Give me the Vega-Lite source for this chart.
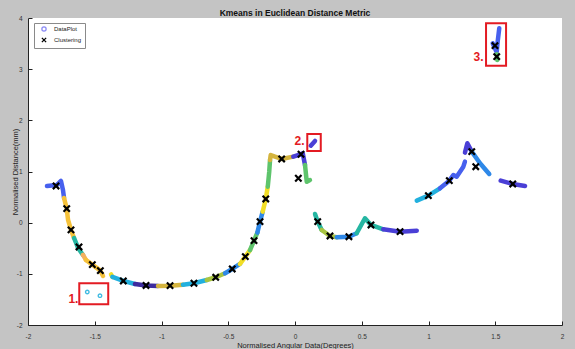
{
  "$schema": "https://vega.github.io/schema/vega-lite/v6.json",
  "width": 534,
  "height": 307,
  "autosize": {"type": "none"},
  "padding": {"left": 28, "top": 18, "right": 13, "bottom": 24},
  "background": "#c4c4c4",
  "config": {"view": {"fill": "white", "stroke": null}, "font": "Liberation Sans"},
  "title": {"text": "Kmeans in Euclidean Distance Metric", "fontSize": 8.5, "fontWeight": "bold", "color": "#111111", "frame": "group", "anchor": "middle", "offset": 3, "baseline": "alphabetic", "dy": 12},
  "datasets": {
    "curves": [
      {"g":"A1","k":"blue","i":0,"x":-1.858,"y":0.717},{"g":"A1","k":"blue","i":1,"x":-1.783,"y":0.737},{"g":"A1","k":"blue","i":2,"x":-1.753,"y":0.815},{"g":"A1","k":"blue","i":3,"x":-1.738,"y":0.639},{"g":"A1","k":"blue","i":4,"x":-1.730,"y":0.483},
      {"g":"A2","k":"amber","i":0,"x":-1.730,"y":0.483},{"g":"A2","k":"amber","i":1,"x":-1.710,"y":0.274},{"g":"A2","k":"amber","i":2,"x":-1.700,"y":0.053},{"g":"A2","k":"amber","i":3,"x":-1.678,"y":-0.142},{"g":"A2","k":"amber","i":4,"x":-1.655,"y":-0.299},
      {"g":"A3","k":"teal","i":0,"x":-1.655,"y":-0.299},{"g":"A3","k":"teal","i":1,"x":-1.625,"y":-0.494},{"g":"A3","k":"teal","i":2,"x":-1.588,"y":-0.631},
      {"g":"A4","k":"orange","i":0,"x":-1.588,"y":-0.631},{"g":"A4","k":"orange","i":1,"x":-1.566,"y":-0.729},
      {"g":"A5","k":"amber","i":0,"x":-1.566,"y":-0.729},{"g":"A5","k":"amber","i":1,"x":-1.518,"y":-0.821},{"g":"A5","k":"amber","i":2,"x":-1.458,"y":-0.938},{"g":"A5","k":"amber","i":3,"x":-1.438,"y":-1.042},
      {"g":"A6","k":"yellow","i":0,"x":-1.378,"y":-1.012},{"g":"A6","k":"yellow","i":1,"x":-1.368,"y":-1.06},
      {"g":"A7","k":"cyan","i":0,"x":-1.368,"y":-1.06},{"g":"A7","k":"cyan","i":1,"x":-1.286,"y":-1.139},{"g":"A7","k":"cyan","i":2,"x":-1.199,"y":-1.198},
      {"g":"A8","k":"indigo","i":0,"x":-1.199,"y":-1.198},{"g":"A8","k":"indigo","i":1,"x":-1.116,"y":-1.227},{"g":"A8","k":"indigo","i":2,"x":-1.026,"y":-1.237},
      {"g":"A9","k":"gold","i":0,"x":-1.026,"y":-1.237},{"g":"A9","k":"gold","i":1,"x":-0.936,"y":-1.231},{"g":"A9","k":"gold","i":2,"x":-0.839,"y":-1.212},
      {"g":"A10","k":"cyan","i":0,"x":-0.839,"y":-1.212},{"g":"A10","k":"cyan","i":1,"x":-0.757,"y":-1.184},{"g":"A10","k":"cyan","i":2,"x":-0.661,"y":-1.120},
      {"g":"A11","k":"lime","i":0,"x":-0.661,"y":-1.120},{"g":"A11","k":"lime","i":1,"x":-0.594,"y":-1.067},{"g":"A11","k":"lime","i":2,"x":-0.524,"y":-0.989},
      {"g":"A12","k":"azure","i":0,"x":-0.524,"y":-0.989},{"g":"A12","k":"azure","i":1,"x":-0.470,"y":-0.905},{"g":"A12","k":"azure","i":2,"x":-0.412,"y":-0.807},
      {"g":"A13","k":"yellow","i":0,"x":-0.412,"y":-0.807},{"g":"A13","k":"yellow","i":1,"x":-0.372,"y":-0.664},{"g":"A13","k":"yellow","i":2,"x":-0.337,"y":-0.537},
      {"g":"A14","k":"green","i":0,"x":-0.337,"y":-0.537},{"g":"A14","k":"green","i":1,"x":-0.307,"y":-0.352},{"g":"A14","k":"green","i":2,"x":-0.282,"y":-0.195},
      {"g":"A15","k":"azure","i":0,"x":-0.282,"y":-0.195},{"g":"A15","k":"azure","i":1,"x":-0.262,"y":0.020},{"g":"A15","k":"azure","i":2,"x":-0.242,"y":0.215},
      {"g":"A16","k":"yellow","i":0,"x":-0.242,"y":0.215},{"g":"A16","k":"yellow","i":1,"x":-0.219,"y":0.463},{"g":"A16","k":"yellow","i":2,"x":-0.204,"y":0.704},
      {"g":"A17","k":"green","i":0,"x":-0.204,"y":0.704},{"g":"A17","k":"green","i":1,"x":-0.193,"y":0.997},{"g":"A17","k":"green","i":2,"x":-0.187,"y":1.225},
      {"g":"A18","k":"gold","i":0,"x":-0.187,"y":1.225},{"g":"A18","k":"gold","i":1,"x":-0.182,"y":1.323},{"g":"A18","k":"gold","i":2,"x":-0.150,"y":1.290},{"g":"A18","k":"gold","i":3,"x":-0.100,"y":1.245},{"g":"A18","k":"gold","i":4,"x":-0.013,"y":1.290},
      {"g":"A19","k":"violet","i":0,"x":-0.013,"y":1.290},{"g":"A19","k":"violet","i":1,"x":0.045,"y":1.337},{"g":"A19","k":"violet","i":2,"x":0.058,"y":1.356},{"g":"A19","k":"violet","i":3,"x":0.075,"y":1.128},
      {"g":"A20","k":"green","i":0,"x":0.075,"y":1.128},{"g":"A20","k":"green","i":1,"x":0.088,"y":0.801},{"g":"A20","k":"green","i":2,"x":0.112,"y":0.834},
      {"g":"P2","k":"violet","i":0,"x":0.118,"y":1.505},{"g":"P2","k":"violet","i":1,"x":0.150,"y":1.597},
      {"g":"B1","k":"teal","i":0,"x":0.150,"y":0.170},{"g":"B1","k":"teal","i":1,"x":0.170,"y":0.020},{"g":"B1","k":"teal","i":2,"x":0.200,"y":-0.143},
      {"g":"B2","k":"lime","i":0,"x":0.200,"y":-0.143},{"g":"B2","k":"lime","i":1,"x":0.262,"y":-0.260},{"g":"B2","k":"lime","i":2,"x":0.312,"y":-0.285},
      {"g":"B3","k":"azure","i":0,"x":0.312,"y":-0.285},{"g":"B3","k":"azure","i":1,"x":0.404,"y":-0.274},{"g":"B3","k":"azure","i":2,"x":0.462,"y":-0.207},
      {"g":"B4","k":"teal","i":0,"x":0.462,"y":-0.207},{"g":"B4","k":"teal","i":1,"x":0.524,"y":0.086},{"g":"B4","k":"teal","i":2,"x":0.569,"y":-0.045},{"g":"B4","k":"teal","i":3,"x":0.661,"y":-0.129},
      {"g":"B5","k":"violet","i":0,"x":0.661,"y":-0.129},{"g":"B5","k":"violet","i":1,"x":0.787,"y":-0.176},{"g":"B5","k":"violet","i":2,"x":0.912,"y":-0.156},
      {"g":"C1","k":"cyan","i":0,"x":0.912,"y":0.430},{"g":"C1","k":"cyan","i":1,"x":0.999,"y":0.528},{"g":"C1","k":"cyan","i":2,"x":1.086,"y":0.672},
      {"g":"C2","k":"blue","i":0,"x":1.086,"y":0.672},{"g":"C2","k":"blue","i":1,"x":1.156,"y":0.821},{"g":"C2","k":"blue","i":2,"x":1.186,"y":0.932},{"g":"C2","k":"blue","i":3,"x":1.211,"y":0.899},{"g":"C2","k":"blue","i":4,"x":1.236,"y":0.997},{"g":"C2","k":"blue","i":5,"x":1.261,"y":1.094},{"g":"C2","k":"blue","i":6,"x":1.273,"y":1.192},
      {"g":"C3","k":"violet","i":0,"x":1.273,"y":1.368},{"g":"C3","k":"violet","i":1,"x":1.291,"y":1.552},{"g":"C3","k":"violet","i":2,"x":1.324,"y":1.388},
      {"g":"C4","k":"azure","i":0,"x":1.324,"y":1.388},{"g":"C4","k":"azure","i":1,"x":1.386,"y":1.161},{"g":"C4","k":"azure","i":2,"x":1.455,"y":0.952},
      {"g":"C5","k":"violet","i":0,"x":1.541,"y":0.821},{"g":"C5","k":"violet","i":1,"x":1.631,"y":0.756},{"g":"C5","k":"violet","i":2,"x":1.723,"y":0.717},
      {"g":"D1","k":"blue","i":0,"x":1.530,"y":3.799},{"g":"D1","k":"blue","i":1,"x":1.518,"y":3.537},{"g":"D1","k":"blue","i":2,"x":1.511,"y":3.342},
      {"g":"D2","k":"blue","i":0,"x":1.481,"y":3.506},{"g":"D2","k":"blue","i":1,"x":1.506,"y":3.356},
      {"g":"D3","k":"green","i":0,"x":1.511,"y":3.291},{"g":"D3","k":"green","i":1,"x":1.515,"y":3.180}
    ],
    "dots": [
      {"k":"cyan","x":-1.556,"y":-1.354},{"k":"cyan","x":-1.461,"y":-1.427}
    ],
    "centers": [
      {"s":"Clustering","x":-1.790,"y":0.717},{"s":"Clustering","x":-1.710,"y":0.274},{"s":"Clustering","x":-1.678,"y":-0.142},{"s":"Clustering","x":-1.618,"y":-0.475},
      {"s":"Clustering","x":-1.518,"y":-0.821},{"s":"Clustering","x":-1.458,"y":-0.938},{"s":"Clustering","x":-1.286,"y":-1.139},{"s":"Clustering","x":-1.116,"y":-1.227},
      {"s":"Clustering","x":-0.936,"y":-1.231},{"s":"Clustering","x":-0.757,"y":-1.184},{"s":"Clustering","x":-0.594,"y":-1.067},{"s":"Clustering","x":-0.470,"y":-0.905},
      {"s":"Clustering","x":-0.372,"y":-0.664},{"s":"Clustering","x":-0.307,"y":-0.352},{"s":"Clustering","x":-0.262,"y":0.020},{"s":"Clustering","x":-0.219,"y":0.463},
      {"s":"Clustering","x":-0.100,"y":1.245},{"s":"Clustering","x":0.045,"y":1.337},{"s":"Clustering","x":0.025,"y":0.868},{"s":"Clustering","x":0.170,"y":0.020},
      {"s":"Clustering","x":0.262,"y":-0.260},{"s":"Clustering","x":0.404,"y":-0.274},{"s":"Clustering","x":0.569,"y":-0.045},{"s":"Clustering","x":0.787,"y":-0.176},
      {"s":"Clustering","x":0.999,"y":0.528},{"s":"Clustering","x":1.156,"y":0.821},{"s":"Clustering","x":1.324,"y":1.388},{"s":"Clustering","x":1.354,"y":1.094},
      {"s":"Clustering","x":1.631,"y":0.756},{"s":"Clustering","x":1.498,"y":3.459},{"s":"Clustering","x":1.511,"y":3.244}
    ],
    "boxes": [
      {"x":-1.616,"x2":-1.399,"y":-1.184,"y2":-1.595},
      {"x":0.092,"x2":0.193,"y":1.734,"y2":1.401},
      {"x":1.431,"x2":1.581,"y":3.897,"y2":3.069}
    ],
    "labels": [
      {"t":"1.","x":-1.622,"y":-1.50},
      {"t":"2.","x":0.072,"y":1.60},
      {"t":"3.","x":1.412,"y":3.24}
    ]
  },
  "encoding": {
    "x": {"field": "x", "type": "quantitative", "scale": {"domain": [-2, 2], "nice": false, "zero": false},
      "axis": {"title": "Normalised Angular Data(Degrees)", "values": [-2, -1.5, -1, -0.5, 0, 0.5, 1, 1.5, 2], "labelExpr": "'' + datum.value", "grid": false, "domainColor": "#222222", "tickColor": "#222222", "tickSize": -4, "labelPadding": 12, "labelFontSize": 6.5, "labelColor": "#333333", "labelFlush": false, "labelOverlap": false, "titleFontSize": 7.5, "titleFontWeight": "normal", "titleColor": "#222222", "titlePadding": 2}},
    "y": {"field": "y", "type": "quantitative", "scale": {"domain": [-2, 4], "nice": false, "zero": false},
      "axis": {"title": "Normalised Distance(mm)", "values": [-2, -1, 0, 1, 2, 3, 4], "labelExpr": "'' + datum.value", "grid": false, "domainColor": "#222222", "tickColor": "#222222", "tickSize": -4, "labelPadding": 10, "labelFontSize": 6.5, "labelColor": "#333333", "labelFlush": false, "labelOverlap": false, "titleFontSize": 7.5, "titleFontWeight": "normal", "titleColor": "#222222", "titlePadding": -3}}
  },
  "layer": [
    {
      "data": {"name": "curves"},
      "mark": {"type": "line", "strokeWidth": 4.5, "strokeCap": "round", "strokeJoin": "round"},
      "encoding": {
        "detail": {"field": "g", "type": "nominal"},
        "order": {"field": "i", "type": "quantitative"},
        "stroke": {"field": "k", "type": "nominal", "legend": null,
          "scale": {"domain": ["indigo", "violet", "blue", "azure", "cyan", "teal", "green", "lime", "gold", "amber", "yellow", "orange"],
                    "range": ["#3d2c9e", "#4a3fd6", "#4760ee", "#2e88e8", "#22b0de", "#25b6a2", "#5ec46c", "#a8c440", "#d4b43e", "#f6c23a", "#f2de26", "#f3b160"]}}
      }
    },
    {
      "data": {"name": "dots"},
      "mark": {"type": "point", "filled": false, "size": 12, "strokeWidth": 1.4, "opacity": 0.85},
      "encoding": {
        "stroke": {"field": "k", "type": "nominal", "legend": null}
      }
    },
    {
      "data": {"name": "centers"},
      "mark": {"type": "point", "filled": false, "size": 40, "strokeWidth": 2.2, "opacity": 1},
      "encoding": {
        "color": {"field": "s", "type": "nominal",
          "scale": {"domain": ["DataPlot", "Clustering"], "range": ["#8c8cf5", "#000000"]},
          "legend": {"title": null, "orient": "none", "legendX": 6, "legendY": 5, "fillColor": "white", "strokeColor": "#8a8a8a", "padding": 3, "labelFontSize": 6, "labelColor": "#222222", "symbolSize": 18, "symbolStrokeWidth": 1.3, "rowPadding": 1, "labelOffset": 7, "symbolOffset": 4}},
        "shape": {"field": "s", "type": "nominal",
          "scale": {"domain": ["DataPlot", "Clustering"], "range": ["circle", "M-1,-1L1,1M-1,1L1,-1"]},
          "legend": {"title": null, "orient": "none", "legendX": 6, "legendY": 5, "fillColor": "white", "strokeColor": "#8a8a8a", "padding": 3, "labelFontSize": 6, "labelColor": "#222222", "symbolSize": 18, "symbolStrokeWidth": 1.3, "rowPadding": 1, "labelOffset": 7, "symbolOffset": 4}}
      }
    },
    {
      "data": {"name": "boxes"},
      "mark": {"type": "rect", "fillOpacity": 0, "stroke": "#e31b23", "strokeWidth": 2},
      "encoding": {
        "x2": {"field": "x2"},
        "y2": {"field": "y2"}
      }
    },
    {
      "data": {"name": "labels"},
      "mark": {"type": "text", "align": "right", "baseline": "middle", "color": "#e31b23", "fontSize": 12, "fontWeight": "bold"},
      "encoding": {
        "text": {"field": "t", "type": "nominal"}
      }
    }
  ]
}
